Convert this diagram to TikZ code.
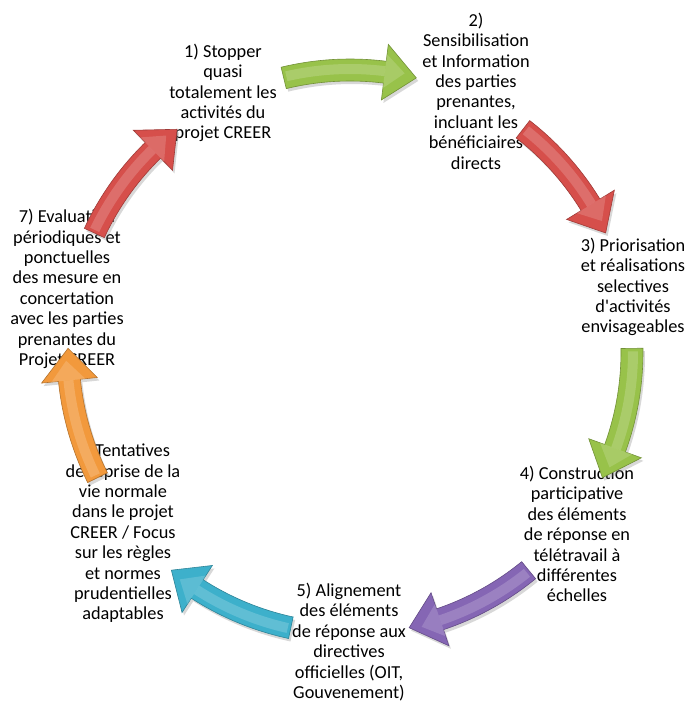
\documentclass[tikz,border=0pt]{standalone}
\usepackage{fontspec}
\setmainfont{Carlito}
\usetikzlibrary{shadows}
\definecolor{cgreen}{HTML}{98C24A}
\definecolor{cred}{HTML}{D64F4B}
\definecolor{cpurple}{HTML}{8566B4}
\definecolor{cteal}{HTML}{3DB0CB}
\definecolor{corange}{HTML}{F2993C}
\tikzset{
  lbl/.style={align=center, font=\fontsize{18.3}{20.4}\selectfont, text=black, inner sep=0pt},
}
\newcommand\cycarrow[3]{%
  \pgfmathsetmacro\ah{#2+6.5}%
  \pgfmathsetmacro\ta{#1-0.6}%
  \pgfmathsetmacro\hb{#2+2.5}%
  \fill[#3, draw=#3!75!black, line width=0.6pt,
        drop shadow={opacity=0.3, shadow xshift=2pt, shadow yshift=-3pt}]
    (#1:293) arc[start angle=#1, end angle=\ah, radius=293]
    -- (\ah:310) -- (#2:282) -- (\ah:254) -- (\ah:271)
    arc[start angle=\ah, end angle=#1, radius=271] -- cycle;
  \draw[#3!60!white, line width=10pt, opacity=0.45]
    (\ta:283) arc[start angle=\ta, end angle=\ah, radius=283];
  \fill[#3!60!white, opacity=0.4]
    (\ah:300) -- (\hb:284) -- (\ah:266) -- cycle;
}
\begin{document}
\begin{tikzpicture}[x=1pt,y=1pt]
\useasboundingbox (0,0) rectangle (688,-702);
\fill[white] (0,0) rectangle (688,-702);

\node[lbl] (t1) at (223,-93) {1) Stopper\\quasi\\totalement les\\activités du\\projet CREER};
\node[lbl] (t2) at (476,-91) {2)\\Sensibilisation\\et Information\\des parties\\prenantes,\\incluant les\\bénéficiaires\\directs};
\node[lbl] (t3) at (633,-287) {3) Priorisation\\et réalisations\\selectives\\d\textquotesingle activités\\envisageables};
\node[lbl] (t4) at (577,-534) {4) Construction\\participative\\des éléments\\de réponse en\\télétravail à\\différentes\\échelles};
\node[lbl] (t5) at (349,-642) {5) Alignement\\des éléments\\de réponse aux\\directives\\officielles (OIT,\\Gouvenement)};
\node[lbl] (t6) at (123,-533) {6) Tentatives\\de reprise de la\\vie normale\\dans le projet\\CREER / Focus\\sur les règles\\et normes\\prudentielles\\adaptables};
\node[lbl] (t7) at (67,-289) {7) Evaluation\\périodiques et\\ponctuelles\\des mesure en\\concertation\\avec les parties\\prenantes du\\Projet CREER};

\begin{scope}[shift={(350,-352)}]
  \coordinate (c) at (0,0);
  \cycarrow{103.6}{76.4}{cgreen}
  \cycarrow{52.17}{24.97}{cred}
  \cycarrow{0.74}{-26.46}{cgreen}
  \cycarrow{-50.69}{-77.89}{cpurple}
  \cycarrow{-102.11}{-129.31}{cteal}
  \cycarrow{206.46}{179.26}{corange}
  \cycarrow{155.03}{127.83}{cred}
\end{scope}
\end{tikzpicture}
\end{document}
